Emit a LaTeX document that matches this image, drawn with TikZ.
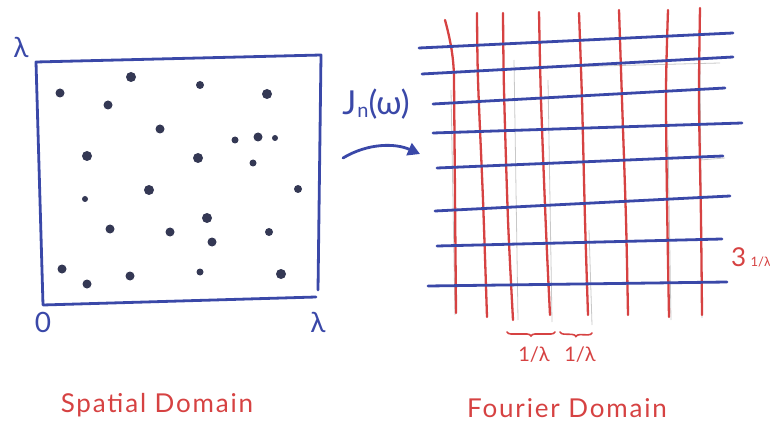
\documentclass[tikz,border=0pt]{standalone}
\usepackage{fontspec}
\setmainfont{Lato}
\usetikzlibrary{arrows.meta,decorations.pathreplacing}
\definecolor{pblue}{RGB}{58,72,168}
\definecolor{pred}{RGB}{214,66,66}
\definecolor{pdot}{RGB}{52,56,84}
\definecolor{pgray}{RGB}{200,200,200}
\tikzset{
  bluepen/.style={draw=pblue,line width=2.8pt,line cap=round,line join=round},
  redpen/.style={draw=pred,line width=2.3pt,line cap=round},
  graypen/.style={draw=pgray,line width=0.8pt},
  dotmark/.style={circle,fill=pdot,inner sep=0pt,minimum size=#1},
  bluetxt/.style={text=pblue,font=\fontsize{28}{30}\selectfont,inner sep=1pt},
  redtxt/.style={text=pred,font=\fontsize{26}{28}\selectfont\addfontfeature{LetterSpace=7},inner sep=1pt},
}
\begin{document}
\begin{tikzpicture}[x=1pt,y=-1pt]
\useasboundingbox (0,0) rectangle (770,430);
% spatial square
\coordinate (s1) at (318,290);
\coordinate (s2) at (321,55);
\coordinate (s3) at (36,62);
\coordinate (s4) at (43,305);
\coordinate (s5) at (316,297);
\draw[bluepen] (s1) -- (s2) -- (s3) -- (s4) -- (s5);
\node[bluetxt] (lamtop) at (21,47) {λ};
\node[bluetxt] (zero) at (43,322) {0};
\node[bluetxt] (lamright) at (318,322) {λ};
% dots
\foreach \x/\y/\r [count=\i] in {60/93/9,131/77/10,200/85/8,267/94/10,108/105/9,160/129/9,
  235/140/7,258/137/9,275/138/6,87/156/10,198/158/10,253/163/7,149/190/10,298/189/8,
  85/199/6,207/218/10,110/229/9,170/232/9,269/232/8,212/242/9,62/269/9,200/272/7,
  281/274/10,130/276/9,87/284/9}
  \node[dotmark=\r pt] (d\i) at (\x,\y) {};
% transform label and arrow
\node[bluetxt,font=\fontsize{33}{35}\selectfont] (jn) at (376,104) {J\kern1pt\raisebox{-3pt}{\fontsize{20}{22}\selectfont n}(ω)};
\coordinate (a1) at (343,158);
\coordinate (a2) at (420,154);
\draw[bluepen,-{Triangle[length=12pt,width=13pt]}] (a1) .. controls (368,143) and (395,143) .. (a2);
% faint pencil guides
\draw[graypen] (451,90) -- (455,315);
\draw[graypen] (514,60) -- (518,320);
\draw[graypen] (548,80) -- (552,322);
\draw[graypen] (589,230) -- (592,325);
\draw[graypen] (668,140) -- (671,320);
\draw[graypen] (700,60) -- (702,318);
\draw[graypen] (560,67) -- (720,63);
\draw[graypen] (700,160) -- (725,158);
% red vertical lines
\draw[redpen] (445,20) .. controls (449,35) and (454,55) .. (454,80) -- (456,313);
\draw[redpen] plot[smooth] coordinates {(477,13) (478,80) (483,200) (487,317)};
\draw[redpen] plot[smooth] coordinates {(503,13) (504,90) (508,220) (513,320)};
\draw[redpen] plot[smooth] coordinates {(539,12) (541,100) (546,230) (550,315)};
\draw[redpen] plot[smooth] coordinates {(579,13) (582,100) (585,220) (588,315)};
\draw[redpen] plot[smooth] coordinates {(619,10) (622,100) (626,220) (628,315)};
\draw[redpen] plot[smooth] coordinates {(668,10) (666,90) (667,200) (669,317)};
\draw[redpen] plot[smooth] coordinates {(700,8) (699,100) (701,220) (702,315)};
% blue horizontal lines
\draw[bluepen] (419,48) -- (733,33);
\draw[bluepen] (422,74) -- (733,57);
\draw[bluepen] (433,104) -- (725,88);
\draw[bluepen] (433,133) -- (742,123);
\draw[bluepen] (437,168) -- (723,156);
\draw[bluepen] (435,211) -- (730,196);
\draw[bluepen] (437,246) -- (722,239);
\draw[bluepen] (428,286) -- (727,282);
% braces
\coordinate (b1) at (507,332);
\coordinate (b2) at (555,332);
\coordinate (b3) at (560,332);
\coordinate (b4) at (592,333);
\draw[redpen,line width=1.6pt,decorate,decoration={brace,mirror,amplitude=4pt}] (b1) -- (b2);
\draw[redpen,line width=1.6pt,decorate,decoration={brace,mirror,amplitude=4pt}] (b3) -- (b4);
\node[redtxt,font=\fontsize{20}{22}\selectfont] (f1) at (534,355) {1/λ};
\node[redtxt,font=\fontsize{20}{22}\selectfont] (f2) at (580,355) {1/λ};
\node[redtxt,font=\fontsize{26}{28}\selectfont,anchor=west,inner sep=0pt] (three) at (731,257) {3\,{\fontsize{13}{14}\selectfont 1/λ}};
% captions
\node[redtxt] (spatial) at (157,405) {Spatial Domain};
\node[redtxt] (fourier) at (567,408) {Fourier Domain};
\end{tikzpicture}
\end{document}
